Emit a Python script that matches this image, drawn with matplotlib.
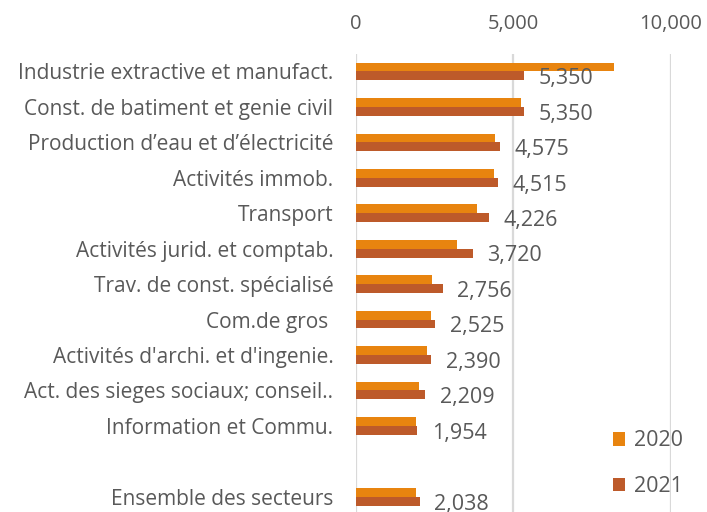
import matplotlib
matplotlib.use("Agg")
import matplotlib.pyplot as plt
import numpy as np

plt.rcParams['font.family'] = ['Open Sans', 'DejaVu Sans']

categories = [
    "Industrie extractive et manufact.",
    "Const. de batiment et genie civil",
    "Production d\u2019eau et d\u2019électricité",
    "Activités immob.",
    "Transport",
    "Activités jurid. et comptab.",
    "Trav. de const. spécialisé",
    "Com.de gros ",
    "Activités d'archi. et d'ingenie.",
    "Act. des sieges sociaux; conseil..",
    "Information et Commu.",
    "",
    "Ensemble des secteurs",
]
values_2020 = [8200, 5240, 4430, 4390, 3860, 3210, 2430, 2390, 2270, 2020, 1910, None, 1910]
values_2021 = [5350, 5350, 4575, 4515, 4226, 3720, 2756, 2525, 2390, 2209, 1954, None, 2038]
series_names = ["2020", "2021"]
xticks = [0, 5000, 10000]

c2020 = "#E8840F"
c2021 = "#BD5A2A"
text_col = "#595959"

fig = plt.figure(figsize=(7.07, 5.12), dpi=100)
ax = fig.add_axes([0.503, -0.005, 0.446, 0.9])

pos = np.arange(len(categories))
h = 0.25
for i, (a, b) in enumerate(zip(values_2020, values_2021)):
    if a is None:
        continue
    ax.barh(pos[i] - h / 2, a, height=h, color=c2020, label=series_names[0] if i == 0 else None)
    ax.barh(pos[i] + h / 2, b, height=h, color=c2021, label=series_names[1] if i == 0 else None)
    ax.annotate(f"{b:,}", xy=(b, pos[i] + h / 2), xytext=(10.5, -2), textcoords="offset points",
                ha="left", va="center", fontsize=15.5, color=text_col)

ax.set_xlim(0, 10000)
ax.set_ylim(len(categories) - 0.5, -0.5)
ax.set_yticks(pos)
ax.set_yticklabels(categories, fontsize=15, color=text_col)
ax.set_xticks(xticks)
ax.set_xticklabels([f"{t:,}" for t in xticks], fontsize=14.5, color=text_col)
ax.xaxis.tick_top()
ax.tick_params(axis='both', length=0)
ax.tick_params(axis='x', pad=14)
ax.tick_params(axis='y', pad=16)
for s in ax.spines.values():
    s.set_visible(False)
ax.grid(axis='x', color="#D9D9D9", lw=1.6)
ax.set_axisbelow(True)

leg = ax.legend(loc="lower right", bbox_to_anchor=(1.1, -0.004), frameon=False, fontsize=15.5,
                handlelength=0.6, handleheight=0.6, labelspacing=1.15, handletextpad=0.4,
                labelcolor=text_col)

fig.savefig("out.png", dpi=100)
